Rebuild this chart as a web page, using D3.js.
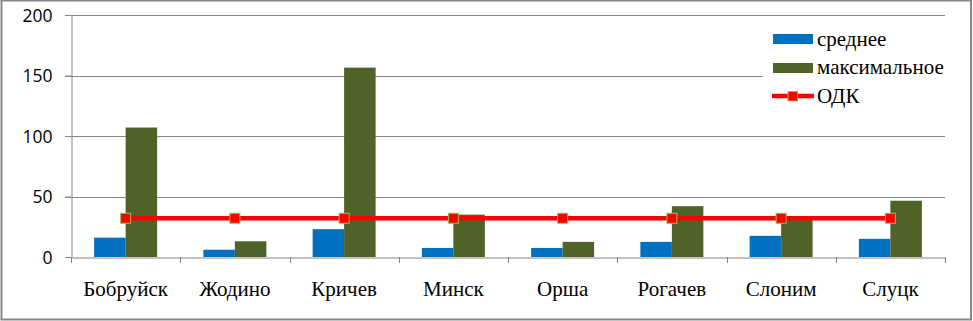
<!DOCTYPE html>
<html><head><meta charset="utf-8">
<script src="https://cdn.jsdelivr.net/npm/d3@7"></script>
<style>
body{margin:0;background:#fff}
svg text.ser{font-family:"Liberation Serif","Times New Roman",serif;font-size:21px;}
svg text.san{font-family:"Open Sans",sans-serif;font-size:17.5px;}
</style>
</head><body>
<svg id="c" width="973" height="321"></svg>
<script>
const categories = ["Бобруйск","Жодино","Кричев","Минск","Орша","Рогачев","Слоним","Слуцк"];
const seriesNames = ["среднее","максимальное","ОДК"];
const avgValues = [16, 6, 23, 7.5, 7.5, 12.5, 17.5, 15];
const maxValues = [107, 13, 156.5, 35, 12.5, 42, 33, 46.5];
const odkValues = [32, 32, 32, 32, 32, 32, 32, 32];
const yTicks = [0, 50, 100, 150, 200];

const svg = d3.select("#c");
const m = {l:71, r:945, t:15, b:257};
const grey = "#868686";
const blue = "#0070c0", green = "#4f6228", red = "#ff0000";

svg.append("rect").attr("x",1.5).attr("y",0.5).attr("width",969.5).attr("height",319).attr("fill","#fff").attr("stroke",grey).attr("stroke-width",2);

const x = d3.scaleBand().domain(categories).range([m.l, m.r]).paddingInner(0).paddingOuter(0);
const y = d3.scaleLinear().domain([0,200]).range([m.b, m.t]);
const barW = x.bandwidth()*63/109.25/2;

// gridlines
svg.append("g").selectAll("line").data(yTicks.filter(d=>d>0)).join("line")
  .attr("x1",m.l-6).attr("x2",m.r).attr("y1",d=>Math.round(y(d))+0.5).attr("y2",d=>Math.round(y(d))+0.5)
  .attr("stroke",grey).attr("stroke-width",1);

// y axis
const ya = svg.append("g").attr("transform",`translate(${m.l+0.5},0)`)
  .call(d3.axisLeft(y).tickValues(yTicks).tickSize(6).tickSizeOuter(0));
ya.attr("font-family",null).attr("font-size",null);
ya.select(".domain").attr("stroke",grey);
ya.selectAll(".tick line").attr("stroke",grey);
ya.selectAll(".tick text").attr("class","san").attr("fill","#000").attr("x",-19).attr("dy","0.36em");

// bars
const g = svg.append("g");
g.selectAll(".avg").data(categories).join("rect").attr("class","avg")
  .attr("x",(d,i)=>x(d)+x.bandwidth()/2-barW).attr("width",barW)
  .attr("y",(d,i)=>y(avgValues[i])).attr("height",(d,i)=>y(0)-y(avgValues[i])).attr("fill",blue);
g.selectAll(".max").data(categories).join("rect").attr("class","max")
  .attr("x",(d,i)=>x(d)+x.bandwidth()/2).attr("width",barW)
  .attr("y",(d,i)=>y(maxValues[i])).attr("height",(d,i)=>y(0)-y(maxValues[i])).attr("fill",green);

// x axis
const xa = svg.append("g").attr("transform",`translate(0,${m.b+0.5})`)
  .call(d3.axisBottom(x).tickSize(0).tickSizeOuter(0));
xa.attr("font-family",null).attr("font-size",null);
xa.select(".domain").attr("stroke",grey);
xa.selectAll(".tick text").attr("class","ser").attr("fill","#000").attr("dy",0).attr("y",38.5);
const bounds = categories.map(d=>x(d)).concat([m.r]);
svg.append("g").selectAll("line").data(bounds).join("line")
  .attr("x1",d=>Math.round(d)+0.5).attr("x2",d=>Math.round(d)+0.5).attr("y1",m.b).attr("y2",m.b+6).attr("stroke",grey);

// ODK line
const cx = d => x(d)+x.bandwidth()/2;
svg.append("path").datum(categories)
  .attr("d", d3.line().x(cx).y((d,i)=>y(odkValues[i])))
  .attr("fill","none").attr("stroke",red).attr("stroke-width",4.5);
svg.append("g").selectAll("rect").data(categories).join("rect")
  .attr("x",d=>cx(d)-5).attr("y",(d,i)=>y(odkValues[i])-5).attr("width",10).attr("height",10)
  .attr("fill",red).attr("stroke","#9bbb59").attr("stroke-width",1);

// legend
const lg = svg.append("g");
lg.append("rect").attr("x",763).attr("y",22).attr("width",182).attr("height",92).attr("fill","#fff");
const ly = [45.5, 74, 103];
lg.append("rect").attr("x",773).attr("y",34).attr("width",40).attr("height",10).attr("fill",blue);
lg.append("rect").attr("x",773).attr("y",63).attr("width",40).attr("height",10).attr("fill",green);
lg.append("line").attr("x1",772).attr("x2",814).attr("y1",96).attr("y2",96).attr("stroke",red).attr("stroke-width",4.5);
lg.append("rect").attr("x",788).attr("y",91.5).attr("width",9.5).attr("height",9.5).attr("fill",red).attr("stroke","#9bbb59");
lg.selectAll("text").data(seriesNames).join("text")
  .attr("class","ser").attr("x",817).attr("y",(d,i)=>ly[i]).attr("fill","#000")
  .text(d=>d);
</script>
</body></html>
